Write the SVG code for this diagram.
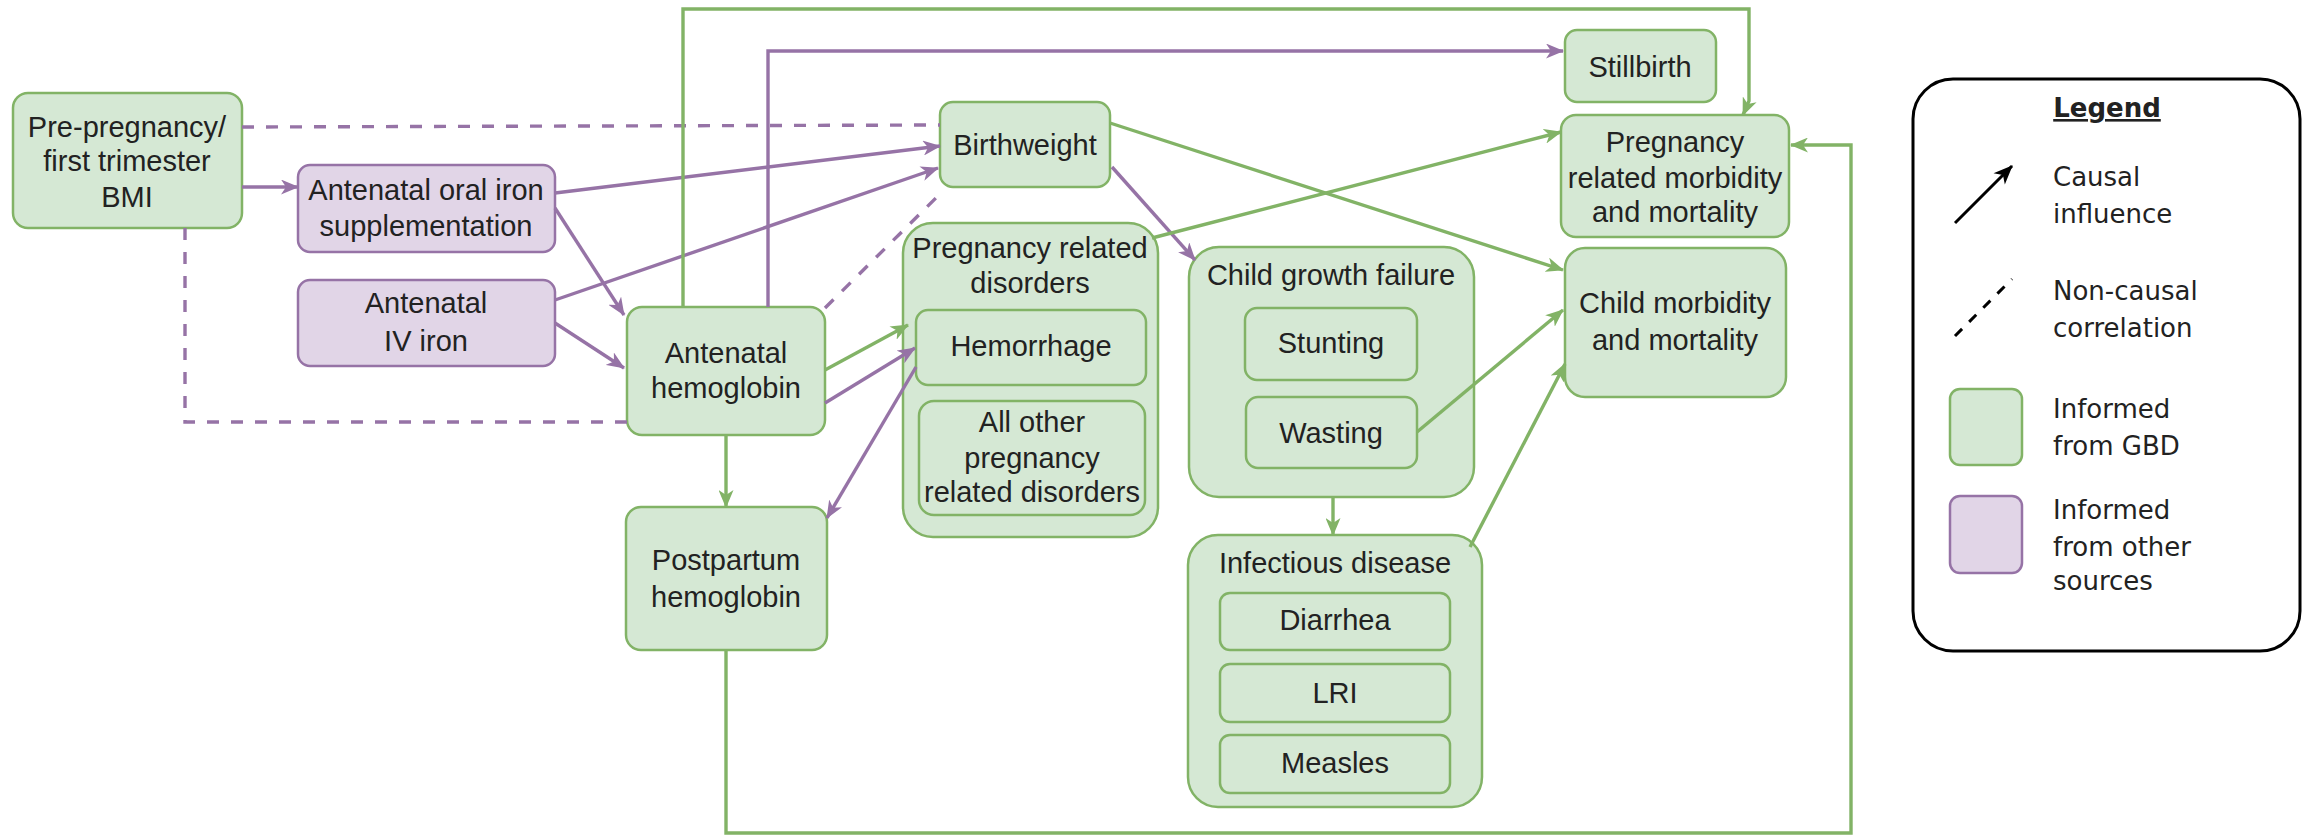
<svg xmlns="http://www.w3.org/2000/svg" width="2308" height="836" viewBox="0 0 2308 836">
<defs>
<style>
.g{fill:#d5e8d4;stroke:#82b366;stroke-width:2.5}
.p{fill:#e1d5e7;stroke:#9673a6;stroke-width:2.5}
.t{font-family:"Liberation Sans",Arial,sans-serif;font-size:29px;fill:#222;text-anchor:middle}
.lt{font-family:"DejaVu Sans",sans-serif;font-size:26px;fill:#222}
.cg{fill:none;stroke:#82b366;stroke-width:3.4}
.cp{fill:none;stroke:#9673a6;stroke-width:3.4}
.dp{fill:none;stroke:#9673a6;stroke-width:3.4;stroke-dasharray:12 12}
</style>
<marker id="ag" viewBox="0 0 18 15" refX="17" refY="7.5" markerWidth="18" markerHeight="15" orient="auto" markerUnits="userSpaceOnUse"><path d="M0,0 L18,7.5 L0,15 L5,7.5 Z" fill="#82b366"/></marker>
<marker id="ap" viewBox="0 0 18 15" refX="17" refY="7.5" markerWidth="18" markerHeight="15" orient="auto" markerUnits="userSpaceOnUse"><path d="M0,0 L18,7.5 L0,15 L5,7.5 Z" fill="#9673a6"/></marker>
<marker id="ak" viewBox="0 0 18 15" refX="17" refY="7.5" markerWidth="20" markerHeight="16" orient="auto" markerUnits="userSpaceOnUse"><path d="M0,0 L18,7.5 L0,15 L5,7.5 Z" fill="#000"/></marker>
</defs>
<rect width="2308" height="836" fill="#fff"/>

<g id="n-bmi"><rect class="g" x="13" y="93" width="229" height="135" rx="15"/>
<text class="t" x="127" y="137">Pre-pregnancy/</text><text class="t" x="127" y="171">first trimester</text><text class="t" x="127" y="207">BMI</text></g>
<g id="n-oral"><rect class="p" x="298" y="165" width="257" height="87" rx="12"/>
<text class="t" x="426" y="200">Antenatal oral iron</text><text class="t" x="426" y="236">supplementation</text></g>
<g id="n-iv"><rect class="p" x="298" y="280" width="257" height="86" rx="12"/>
<text class="t" x="426" y="313">Antenatal</text><text class="t" x="426" y="351">IV iron</text></g>
<g id="n-ahgb"><rect class="g" x="627" y="307" width="198" height="128" rx="15"/>
<text class="t" x="726" y="363">Antenatal</text><text class="t" x="726" y="398">hemoglobin</text></g>
<g id="n-pphgb"><rect class="g" x="626" y="507" width="201" height="143" rx="15"/>
<text class="t" x="726" y="570">Postpartum</text><text class="t" x="726" y="607">hemoglobin</text></g>
<g id="n-bw"><rect class="g" x="940" y="102" width="170" height="85" rx="13"/>
<text class="t" x="1025" y="155">Birthweight</text></g>
<g id="n-prd"><rect class="g" x="903" y="223" width="255" height="314" rx="30"/>
<text class="t" x="1030" y="258">Pregnancy related</text><text class="t" x="1030" y="293">disorders</text>
<g id="n-hem"><rect class="g" x="916" y="310" width="230" height="75" rx="12"/><text class="t" x="1031" y="356">Hemorrhage</text></g>
<g id="n-allother"><rect class="g" x="919" y="401" width="226" height="114" rx="15"/>
<text class="t" x="1032" y="432">All other</text><text class="t" x="1032" y="468">pregnancy</text><text class="t" x="1032" y="502">related disorders</text></g>
</g>
<g id="n-cgf"><rect class="g" x="1189" y="247" width="285" height="250" rx="30"/>
<text class="t" x="1331" y="285">Child growth failure</text>
<g id="n-stunting"><rect class="g" x="1245" y="308" width="172" height="72" rx="12"/><text class="t" x="1331" y="353">Stunting</text></g>
<g id="n-wasting"><rect class="g" x="1246" y="397" width="171" height="71" rx="12"/><text class="t" x="1331" y="443">Wasting</text></g>
</g>
<g id="n-inf"><rect class="g" x="1188" y="535" width="294" height="272" rx="30"/>
<text class="t" x="1335" y="573">Infectious disease</text>
<g id="n-diarrhea"><rect class="g" x="1220" y="593" width="230" height="57" rx="10"/><text class="t" x="1335" y="630">Diarrhea</text></g>
<g id="n-lri"><rect class="g" x="1220" y="664" width="230" height="58" rx="10"/><text class="t" x="1335" y="703">LRI</text></g>
<g id="n-measles"><rect class="g" x="1220" y="735" width="230" height="58" rx="10"/><text class="t" x="1335" y="773">Measles</text></g>
</g>
<g id="n-still"><rect class="g" x="1565" y="30" width="151" height="72" rx="12"/>
<text class="t" x="1640" y="77">Stillbirth</text></g>
<g id="n-pmm"><rect class="g" x="1561" y="115" width="228" height="122" rx="15"/>
<text class="t" x="1675" y="152">Pregnancy</text><text class="t" x="1675" y="188">related morbidity</text><text class="t" x="1675" y="222">and mortality</text></g>
<g id="n-cmm"><rect class="g" x="1565" y="248" width="221" height="149" rx="20"/>
<text class="t" x="1675" y="313">Child morbidity</text><text class="t" x="1675" y="350">and mortality</text></g>

<g id="connectors">
<path class="cp" d="M242,187 L298,187" marker-end="url(#ap)"/>
<path class="cp" d="M555,193 L940,146" marker-end="url(#ap)"/>
<path class="cp" d="M555,208 L624,315" marker-end="url(#ap)"/>
<path class="cp" d="M555,300 L938,168" marker-end="url(#ap)"/>
<path class="cp" d="M555,323 L624,368" marker-end="url(#ap)"/>
<path class="cp" d="M768,307 L768,51 L1563,51" marker-end="url(#ap)"/>
<path class="cp" d="M825,403 L915,348" marker-end="url(#ap)"/>
<path class="cp" d="M1112,167 L1195,260" marker-end="url(#ap)"/>
<path class="cp" d="M916,367 L827,518" marker-end="url(#ap)"/>
<path class="dp" d="M242,127 L940,125"/>
<path class="dp" d="M185,228 L185,422 L627,422"/>
<path class="dp" d="M825,308 L944,190"/>
<path class="cg" d="M683,307 L683,9 L1749,9 L1749,101 L1743,115" marker-end="url(#ag)"/>
<path class="cg" d="M825,370 L908,325" marker-end="url(#ag)"/>
<path class="cg" d="M726,435 L726,507" marker-end="url(#ag)"/>
<path class="cg" d="M726,650 L726,833 L1851,833 L1851,145 L1791,145" marker-end="url(#ag)"/>
<path class="cg" d="M1110,123 L1563,270" marker-end="url(#ag)"/>
<path class="cg" d="M1152,238 L1561,132" marker-end="url(#ag)"/>
<path class="cg" d="M1417,432 L1563,310" marker-end="url(#ag)"/>
<path class="cg" d="M1333,497 L1333,535" marker-end="url(#ag)"/>
<path class="cg" d="M1470,547 L1565,364" marker-end="url(#ag)"/>
</g>

<g id="legend">
<rect x="1913" y="79" width="387" height="572" rx="40" fill="#fff" stroke="#000" stroke-width="3"/>
<text class="lt" x="2107" y="117" text-anchor="middle" font-weight="bold" text-decoration="underline">Legend</text>
<path d="M1955,223 L2012,166" stroke="#000" stroke-width="3" fill="none" marker-end="url(#ak)"/>
<text class="lt" x="2053" y="186">Causal</text><text class="lt" x="2053" y="223">influence</text>
<path d="M1955,336 L2012,279" stroke="#000" stroke-width="3" fill="none" stroke-dasharray="10 10"/>
<text class="lt" x="2053" y="300">Non-causal</text><text class="lt" x="2053" y="337">correlation</text>
<rect class="g" x="1950" y="389" width="72" height="76" rx="10"/>
<text class="lt" x="2053" y="418">Informed</text><text class="lt" x="2053" y="455">from GBD</text>
<rect class="p" x="1950" y="496" width="72" height="77" rx="10"/>
<text class="lt" x="2053" y="519">Informed</text><text class="lt" x="2053" y="556">from other</text><text class="lt" x="2053" y="590">sources</text>
</g>
</svg>
